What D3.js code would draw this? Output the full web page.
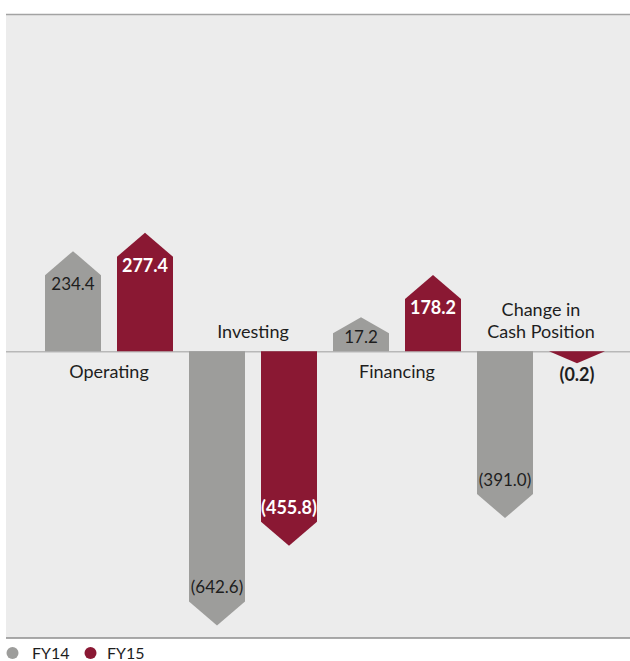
<!DOCTYPE html>
<html>
<head>
<meta charset="utf-8">
<script src="https://cdn.jsdelivr.net/npm/d3@7"></script>
<style>
  html, body { margin: 0; padding: 0; background: #ffffff; }
  svg { display: block; font-family: Lato, "Noto Sans", sans-serif; }
</style>
</head>
<body>
<svg id="chart" width="630" height="661"></svg>
<script>
// Cash flow components, USD millions
const categories = ["Operating", "Investing", "Financing", "Change in Cash Position"];
const categoryLines = [["Operating"], ["Investing"], ["Financing"], ["Change in", "Cash Position"]];
const series = ["FY14", "FY15"];
const fy14 = [234.4, -642.6, 17.2, -391.0];
const fy15 = [277.4, -455.8, 178.2, -0.2];
const valueLabels = [
  ["234.4", "(642.6)", "17.2", "(391.0)"],
  ["277.4", "(455.8)", "178.2", "(0.2)"]
];

const colors = { FY14: "#9d9d9b", FY15: "#8a1833" };

const svg = d3.select("#chart");
const panel = { left: 6, right: 630, top: 14, bottom: 638 };

const y = d3.scaleLinear().domain([-672, 790]).range([panel.bottom, panel.top]);
const x0 = d3.scaleBand().domain(categories).range([45, 621]).paddingInner(0).paddingOuter(0);
const x1 = d3.scaleBand().domain(series).range([0, 128]).paddingInner(16 / 72).paddingOuter(0);
const groupCenter = c => x0(c) + (x1.range()[1] - x1.range()[0]) / 2;

// background panel with top and bottom rules
svg.append("rect")
  .attr("x", panel.left).attr("y", panel.top)
  .attr("width", panel.right - panel.left).attr("height", panel.bottom - panel.top)
  .attr("fill", "#ececec");
svg.append("line")
  .attr("x1", panel.left).attr("x2", panel.right)
  .attr("y1", panel.top + 0.5).attr("y2", panel.top + 0.5)
  .attr("stroke", "#a3a3a3").attr("stroke-width", 1.5);
svg.append("line")
  .attr("x1", panel.left).attr("x2", panel.right)
  .attr("y1", panel.bottom).attr("y2", panel.bottom)
  .attr("stroke", "#8e8e8e").attr("stroke-width", 1.5);

const y0 = y(0);

// zero line
svg.append("line")
  .attr("x1", panel.left).attr("x2", panel.right)
  .attr("y1", y0 + 0.5).attr("y2", y0 + 0.5)
  .attr("stroke", "#b8b8b8").attr("stroke-width", 1.5);

// arrow geometry: tip sits at the value; tiny values get a minimum visible length
function arrowGeom(v) {
  const sign = v >= 0 ? -1 : 1;           // screen direction
  let len = Math.abs(y(v) - y0);
  let head;
  if (Math.abs(v) < 1) {                  // nominal change: direction chevron only
    len = 12; head = 12;
  } else {
    len = Math.max(len, 34);
    head = Math.min(24, len * 0.47);
  }
  const tip = y0 + sign * len;
  const shoulder = tip - sign * head;
  return { sign, tip, shoulder, len, head };
}

const rows = [];
series.forEach((s, si) => {
  const vals = si === 0 ? fy14 : fy15;
  categories.forEach((c, ci) => {
    rows.push({ series: s, si, category: c, ci, value: vals[ci], label: valueLabels[si][ci] });
  });
});

const bars = svg.append("g");
bars.selectAll("path")
  .data(rows)
  .join("path")
  .attr("fill", d => colors[d.series])
  .attr("d", d => {
    const g = arrowGeom(d.value);
    const xl = x0(d.category) + x1(d.series);
    const w = x1.bandwidth();
    const p = d3.path();
    p.moveTo(xl, y0);
    p.lineTo(xl, g.shoulder);
    p.lineTo(xl + w / 2, g.tip);
    p.lineTo(xl + w, g.shoulder);
    p.lineTo(xl + w, y0);
    p.closePath();
    return p.toString();
  });

// value labels
svg.append("g").selectAll("text")
  .data(rows)
  .join("text")
  .attr("text-anchor", "middle")
  .attr("font-size", d => d.si === 1 ? 18 : 17)
  .attr("x", d => x0(d.category) + x1(d.series) + x1.bandwidth() / 2)
  .attr("y", d => {
    const g = arrowGeom(d.value);
    if (Math.abs(d.value) < 1) return g.tip + 18;
    if (d.value >= 0) return Math.min(g.shoulder + 15, y0 - 8.5);
    return g.shoulder - 8;
  })
  .attr("font-weight", d => d.si === 1 ? 700 : 400)
  .attr("fill", d => (d.si === 1 && Math.abs(d.value) >= 1) ? "#ffffff" : "#1e1e1e")
  .text(d => d.label);

// category labels: below the axis for inflows, above for outflows
const catG = svg.append("g");
categories.forEach((c, ci) => {
  const positive = fy14[ci] + fy15[ci] >= 0;
  const lines = categoryLines[ci];
  const cx = groupCenter(c);
  const t = catG.append("text")
    .attr("text-anchor", "middle")
    .attr("font-size", 18)
    .attr("fill", "#1e1e1e");
  lines.forEach((ln, li) => {
    const yy = positive ? y0 + 26.5 + li * 22 : y0 - 13 - (lines.length - 1 - li) * 22;
    t.append("tspan").attr("x", cx).attr("y", yy).text(ln);
  });
});

// legend
const legend = svg.append("g");
const legendItems = [
  { s: "FY14", cx: 12.5, tx: 32 },
  { s: "FY15", cx: 90.5, tx: 107 }
];
legendItems.forEach(it => {
  legend.append("circle").attr("cx", it.cx).attr("cy", 653).attr("r", 6).attr("fill", colors[it.s]);
  legend.append("text").attr("x", it.tx).attr("y", 658.5).attr("font-size", 16).attr("fill", "#1e1e1e").text(it.s);
});
</script>
</body>
</html>
